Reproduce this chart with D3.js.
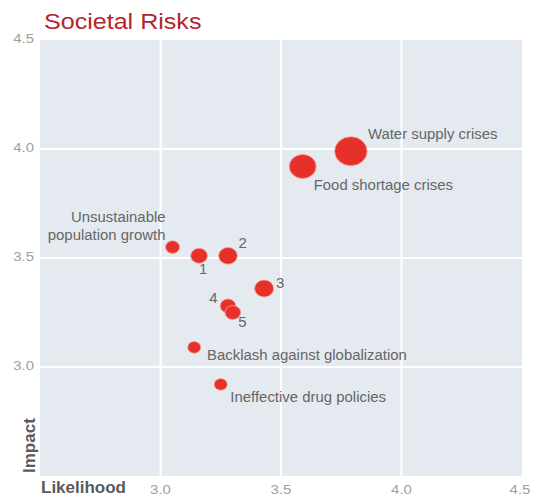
<!DOCTYPE html>
<html>
<head>
<meta charset="utf-8">
<script src="https://cdn.jsdelivr.net/npm/d3@7"></script>
<style>
  body { margin: 0; background: #fff; }
  text { font-family: "Liberation Sans", Arial, sans-serif; }
</style>
</head>
<body>
<div id="chart-area"></div>
<script>
// data
var risks = ["Water supply crises", "Food shortage crises", "Unsustainable population growth",
  "1", "2", "3", "4", "5", "Backlash against globalization", "Ineffective drug policies"];
var likelihood = [3.79, 3.59, 3.05, 3.16, 3.28, 3.43, 3.28, 3.30, 3.14, 3.25];
var impact = [3.99, 3.92, 3.55, 3.51, 3.51, 3.36, 3.28, 3.25, 3.09, 2.92];
var weight = [210, 144, 40, 56, 70, 72, 49, 49, 34, 34];
var xTicks = [3.0, 3.5, 4.0, 4.5];
var yTicks = [3.0, 3.5, 4.0, 4.5];

// label placement relative to each bubble [dx, dy, anchor]
var labelPos = [
  [17, -17, "start"], [11, 18.5, "start"], [-7, -30, "end"],
  [4, 13.5, "middle"], [14.6, -12.6, "middle"], [16, -6, "middle"],
  [-14.7, -7.7, "middle"], [9.5, 9.7, "middle"], [12.8, 8, "start"], [9.6, 12.6, "start"]
];

var width = 541, height = 497;
var plotL = 40, plotR = 522, plotT = 40, plotB = 476;
var stretch = 1.03;

var svg = d3.select("#chart-area").append("svg")
    .attr("width", width)
    .attr("height", height);

var x = d3.scaleLinear().domain([2.5, 4.5]).range([plotL, plotR]);
var y = d3.scaleLinear().domain([2.5, 4.5]).range([plotB, plotT]);
var r = d3.scaleSqrt().domain([0, 210]).range([0, 14.5]);

function at(px, py, sx) {
  return "translate(" + px + "," + py + ") scale(" + sx + ",1)";
}

svg.append("text")
    .attr("transform", at(44, 29, 1.14))
    .attr("font-size", 22)
    .attr("fill", "#b3262d")
    .text("Societal Risks");

svg.append("rect")
    .attr("x", plotL)
    .attr("y", plotT)
    .attr("width", plotR - plotL)
    .attr("height", plotB - plotT)
    .attr("fill", "#e4eaf0");

// gridlines
svg.selectAll(".vgrid").data(xTicks.slice(0, 3)).enter().append("line")
    .attr("x1", d => x(d)).attr("x2", d => x(d))
    .attr("y1", plotT).attr("y2", plotB)
    .attr("stroke", "#fff").attr("stroke-width", 2);

svg.selectAll(".hgrid").data(yTicks.slice(0, 3)).enter().append("line")
    .attr("x1", plotL).attr("x2", plotR)
    .attr("y1", d => y(d)).attr("y2", d => y(d))
    .attr("stroke", "#fff").attr("stroke-width", 2);

// tick labels
svg.selectAll(".ytick").data(yTicks).enter().append("text")
    .attr("transform", d => at(34, y(d) - 2, 1.15))
    .attr("dy", "0.35em")
    .attr("text-anchor", "end")
    .attr("font-size", 13)
    .attr("fill", "#a0a0a0")
    .text(d => d3.format(".1f")(d));

svg.selectAll(".xtick").data(xTicks).enter().append("text")
    .attr("transform", d => at(d === 4.5 ? x(d) - 2 : x(d), 489, 1.15))
    .attr("dy", "0.35em")
    .attr("text-anchor", "middle")
    .attr("font-size", 13)
    .attr("fill", "#a0a0a0")
    .text(d => d3.format(".1f")(d));

svg.append("text")
    .attr("x", 41)
    .attr("y", 493)
    .attr("font-size", 17)
    .attr("font-weight", "bold")
    .attr("fill", "#5a5a5a")
    .text("Likelihood");

svg.append("text")
    .attr("transform", "translate(35,473) rotate(-90)")
    .attr("font-size", 17)
    .attr("font-weight", "bold")
    .attr("fill", "#5a5a5a")
    .text("Impact");

// bubbles
var idx = d3.range(risks.length);

svg.selectAll(".bubble").data(idx).enter().append("ellipse")
    .attr("cx", i => x(likelihood[i]))
    .attr("cy", i => y(impact[i]))
    .attr("rx", i => r(weight[i]) * 1.12)
    .attr("ry", i => r(weight[i]))
    .attr("fill", "#e8302a")
    .attr("stroke", "#f3a49a")
    .attr("stroke-width", 0.8);

// labels
svg.selectAll(".label").data(idx).enter().append("text")
    .attr("transform", i => at(x(likelihood[i]) + labelPos[i][0], y(impact[i]) + labelPos[i][1], stretch))
    .attr("dy", "0.35em")
    .attr("text-anchor", i => labelPos[i][2])
    .attr("font-size", 14.5)
    .attr("fill", "#666")
    .each(function(i) {
      var t = d3.select(this);
      if (i === 2) {
        t.append("tspan").attr("x", 0).text("Unsustainable");
        t.append("tspan").attr("x", 0).attr("dy", 17.7).text("population growth");
      } else {
        t.text(risks[i]);
      }
    });
</script>
</body>
</html>
